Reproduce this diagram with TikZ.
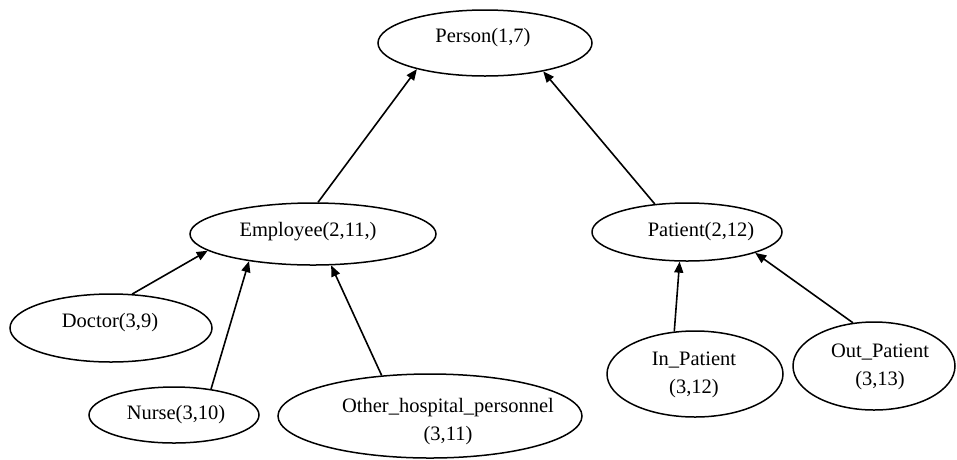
\documentclass[tikz,border=0pt]{standalone}
\usepackage{fontspec}
\setmainfont{Liberation Serif}
\usetikzlibrary{shapes.geometric,arrows.meta}
\tikzset{
  cls/.style={draw=black, line width=1.5pt, ellipse, inner sep=0pt, fill=white},
  lbl/.style={inner sep=0pt, align=center, font=\fontsize{20.5}{28}\selectfont},
  isa/.style={line width=1.6pt, -{Triangle[length=11pt,width=9pt]}},
}
\begin{document}
\begin{tikzpicture}[x=1pt,y=-1pt]
\useasboundingbox (0,0) rectangle (957,459);

% class ellipses
\node[cls, minimum width=214pt, minimum height=66pt] (person) at (485,43) {};
\node[cls, minimum width=246pt, minimum height=62pt] (emp) at (313,234) {};
\node[cls, minimum width=190pt, minimum height=58pt] (pat) at (687,232) {};
\node[cls, minimum width=202pt, minimum height=68pt] (doc) at (111,328) {};
\node[cls, minimum width=170pt, minimum height=56pt] (nurse) at (174,415) {};
\node[cls, minimum width=304pt, minimum height=84pt] (other) at (430,416) {};
\node[cls, minimum width=176pt, minimum height=86pt] (inpat) at (695,374) {};
\node[cls, minimum width=162pt, minimum height=88pt] (outpat) at (874,366) {};

% class names
\node[lbl] (personT) at (483,38) {Person(1,7)};
\node[lbl] (empT) at (308,232) {Employee(2,11,)};
\node[lbl] (patT) at (701,232) {Patient(2,12)};
\node[lbl] (docT) at (110,323) {Doctor(3,9)};
\node[lbl] (nurseT) at (176,415) {Nurse(3,10)};
\node[lbl] (otherT) at (448,422) {Other\_hospital\_personnel\\(3,11)};
\node[lbl] (inpatT) at (694,375) {In\_Patient\\(3,12)};
\node[lbl] (outpatT) at (880,367) {Out\_Patient\\(3,13)};

% generalisation arrows
\draw[isa] (emp.81) -- (person.201);
\draw[isa] (pat.139.5) -- (person.334.5);
\draw[isa] (doc.58.3) -- (emp.189.7);
\draw[isa] (nurse.35.7) -- (emp.203.7);
\draw[isa] (other.140.9) -- (emp.300.5);
\draw[isa] (inpat.116.6) -- (pat.256.9);
\draw[isa] (outpat.116) -- (pat.343.5);
\end{tikzpicture}
\end{document}
